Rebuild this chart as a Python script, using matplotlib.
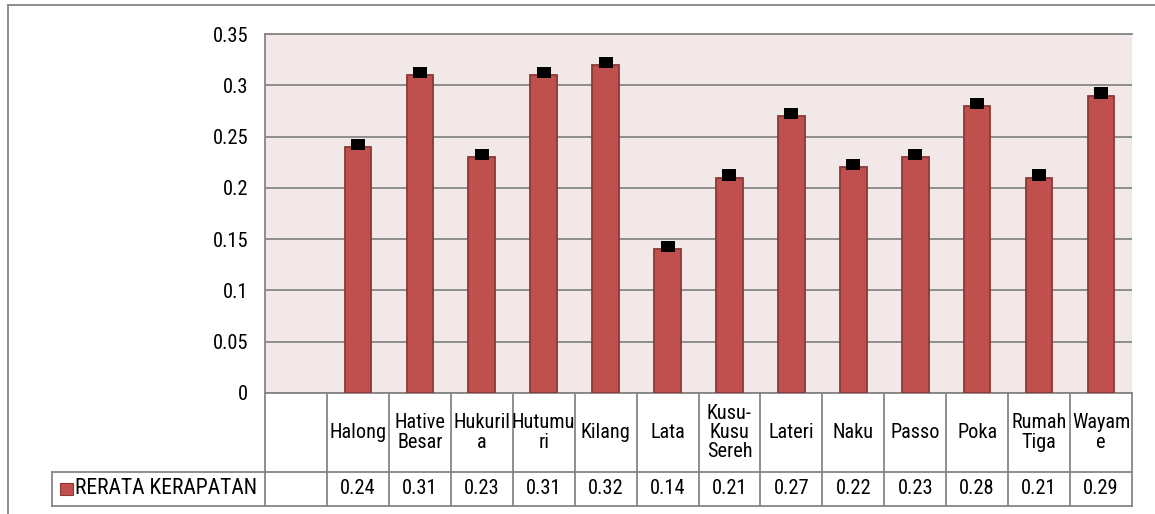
import matplotlib
matplotlib.use("Agg")
import matplotlib.pyplot as plt
from matplotlib.lines import Line2D
from matplotlib.patches import Rectangle
from matplotlib.transforms import blended_transform_factory
from matplotlib import font_manager
import numpy as np

names = {f.name for f in font_manager.fontManager.ttflist}
if "Liberation Sans Narrow" in names:
    plt.rcParams['font.family'] = ['Liberation Sans Narrow', 'DejaVu Sans']
    fs, fs_head, fs_leg, lsp = 14.8, 14.8, 15.2, 1.0
elif "Roboto Condensed" in names:
    plt.rcParams['font.family'] = ['Roboto Condensed', 'DejaVu Sans']
    fs, fs_head, fs_leg, lsp = 14.8, 14.6, 15.6, 1.0
else:
    plt.rcParams['font.family'] = ['Liberation Sans', 'DejaVu Sans']
    fs, fs_head, fs_leg, lsp = 13.4, 12.9, 13.4, 1.08
weight = "normal"

categories = ["", "Halong", "Hative\nBesar", "Hukuril\na", "Hutumu\nri", "Kilang", "Lata",
              "Kusu-\nKusu\nSereh", "Lateri", "Naku", "Passo", "Poka", "Rumah\nTiga", "Wayam\ne"]
values = [np.nan, 0.24, 0.31, 0.23, 0.31, 0.32, 0.14, 0.21, 0.27, 0.22, 0.23, 0.28, 0.21, 0.29]
value_labels = ["", "0.24", "0.31", "0.23", "0.31", "0.32", "0.14", "0.21", "0.27", "0.22",
                "0.23", "0.28", "0.21", "0.29"]
errors_up = [0, 0.005, 0.005, 0.005, 0.005, 0.005, 0.005, 0.005, 0.005, 0.005, 0.005, 0.005, 0.005, 0.005]
series_name = "RERATA KERAPATAN"
yticks = [0, 0.05, 0.1, 0.15, 0.2, 0.25, 0.3, 0.35]
ytick_labels = ["0", "0.05", "0.1", "0.15", "0.2", "0.25", "0.3", "0.35"]

W, H = 1155, 514
fig = plt.figure(figsize=(W / 100, H / 100), dpi=100)
fig.patch.set_facecolor("white")

left_px, right_px, top_px, bot_px = 265, 1132, 34, 393
ax = fig.add_axes([left_px / W, 1 - bot_px / H, (right_px - left_px) / W, (bot_px - top_px) / H])
ax.set_facecolor("#F2E8E8")

grey = "#868686"
bar_color = "#C0504D"
edge_color = "#8C3836"

x = np.arange(len(categories))
vals = np.array(values, dtype=float)
mask = ~np.isnan(vals)
ax.bar(x[mask], vals[mask], width=0.43, color=bar_color, edgecolor=edge_color, linewidth=1.3, zorder=3)
err = np.array(errors_up)[mask]
ax.errorbar(x[mask], vals[mask], yerr=[np.zeros_like(err), err], fmt="none", ecolor="black",
            elinewidth=5.0, capsize=4.7, capthick=4.3, zorder=4)

ax.set_xlim(-0.5, len(categories) - 0.5)
ax.set_ylim(0, 0.35)
ax.set_yticks(yticks)
ax.set_yticklabels(ytick_labels, fontsize=fs, fontweight=weight)
ax.tick_params(axis="y", length=0, pad=12)
ax.set_xticks([])
ax.yaxis.grid(True, color=grey, linewidth=1.3, zorder=0)
ax.set_axisbelow(True)
for s in ["left", "bottom", "top"]:
    ax.spines[s].set_color(grey)
    ax.spines[s].set_linewidth(1.3)
ax.spines["right"].set_visible(False)

# data table below axes
axh = bot_px - top_px
axw = right_px - left_px
row1 = -(472 - bot_px) / axh
row2 = -(506 - bot_px) / axh
leg_left = (52 - left_px) / axw
bt = blended_transform_factory(ax.transData, ax.transAxes)
lw = 1.3
for k in range(len(categories) + 1):
    xb = -0.5 + k
    ax.add_line(Line2D([xb, xb], [0, row2], transform=bt, color=grey, lw=lw, clip_on=False))
ax.add_line(Line2D([leg_left, 1], [row1, row1], transform=ax.transAxes, color=grey, lw=lw, clip_on=False))
ax.add_line(Line2D([leg_left, 1], [row2, row2], transform=ax.transAxes, color=grey, lw=lw, clip_on=False))
ax.add_line(Line2D([leg_left, leg_left], [row1, row2], transform=ax.transAxes, color=grey, lw=lw, clip_on=False))

for i, (c, v) in enumerate(zip(categories, value_labels)):
    ax.text(i, row1 / 2, c, transform=bt, ha="center", va="center", fontsize=fs_head, fontweight=weight,
            multialignment="center", linespacing=lsp, clip_on=False)
    ax.text(i, (row1 + row2) / 2, v, transform=bt, ha="center", va="center", fontsize=fs,
            fontweight=weight, clip_on=False)

# legend key in table
sq_w = 13 / axw
sq_h = 12 / axh
ax.add_patch(Rectangle(((66.5 - left_px) / axw - sq_w / 2, (row1 + row2) / 2 - sq_h / 2), sq_w, sq_h,
                       transform=ax.transAxes, facecolor=bar_color, edgecolor=edge_color, lw=0.8, clip_on=False))
ax.text((75 - left_px) / axw, (row1 + row2) / 2, series_name, transform=ax.transAxes, ha="left", va="center",
        fontsize=fs_leg, fontweight=weight, clip_on=False)

# outer frame lines
fig.add_artist(Line2D([8 / W, 1], [1 - 5 / H, 1 - 5 / H], transform=fig.transFigure, color=grey, lw=1.3))
fig.add_artist(Line2D([8 / W, 8 / W], [0, 1 - 5 / H], transform=fig.transFigure, color=grey, lw=1.3))

fig.savefig("out.png", dpi=100)
